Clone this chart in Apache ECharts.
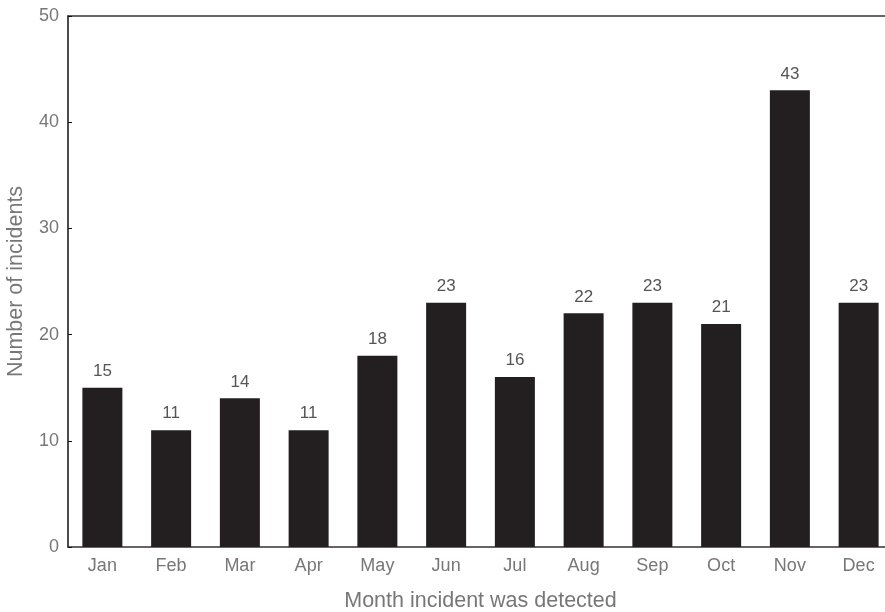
<!DOCTYPE html>
<html><head><meta charset="utf-8">
<script src="https://cdn.jsdelivr.net/npm/echarts@6/dist/echarts.min.js"></script>
<style>html,body{margin:0;padding:0;background:#fff}#c{width:885px;height:612px}</style>
</head><body><div id="c"></div>
<script>
const months = ['Jan','Feb','Mar','Apr','May','Jun','Jul','Aug','Sep','Oct','Nov','Dec'];
const incidents = [15,11,14,11,18,23,16,22,23,21,43,23];
const yTicks = {min:0, max:50, interval:10};

const chart = echarts.init(document.getElementById('c'), null, {renderer:'canvas'});
const font = '"Liberation Sans", Arial, sans-serif';
chart.setOption({
  animation:false,
  grid:{left:68, right:-8, top:16, bottom:65, containLabel:false, outerBoundsMode:'none'},
  xAxis:[{
    type:'category', data:months, position:'bottom',
    axisLine:{show:true, lineStyle:{color:'#333', width:1.5}},
    axisTick:{show:false},
    axisLabel:{color:'#777', fontSize:18, fontFamily:font, margin:10},
    name:'Month incident was detected', nameLocation:'middle', nameGap:43,
    nameTextStyle:{color:'#777', fontSize:21.5, fontFamily:font}
  },{
    type:'category', data:months, position:'top',
    axisLine:{show:true, lineStyle:{color:'#333', width:1.5}},
    axisTick:{show:false}, axisLabel:{show:false}
  }],
  yAxis:{
    type:'value', min:yTicks.min, max:yTicks.max, interval:yTicks.interval,
    axisLine:{show:true, lineStyle:{color:'#111', width:1.5}},
    axisTick:{show:true, inside:true, length:4, lineStyle:{color:'#111'}},
    splitLine:{show:false},
    axisLabel:{color:'#777', fontSize:18, fontFamily:font, margin:9},
    name:'Number of incidents', nameLocation:'middle', nameGap:41,
    nameTextStyle:{color:'#777', fontSize:21.5, fontFamily:font}
  },
  series:[{
    type:'bar', data:incidents, barWidth:40, xAxisIndex:0,
    itemStyle:{color:'#231f20'},
    label:{show:true, position:'top', distance:8, color:'#555', fontSize:17, fontFamily:font}
  }]
});
</script></body></html>
